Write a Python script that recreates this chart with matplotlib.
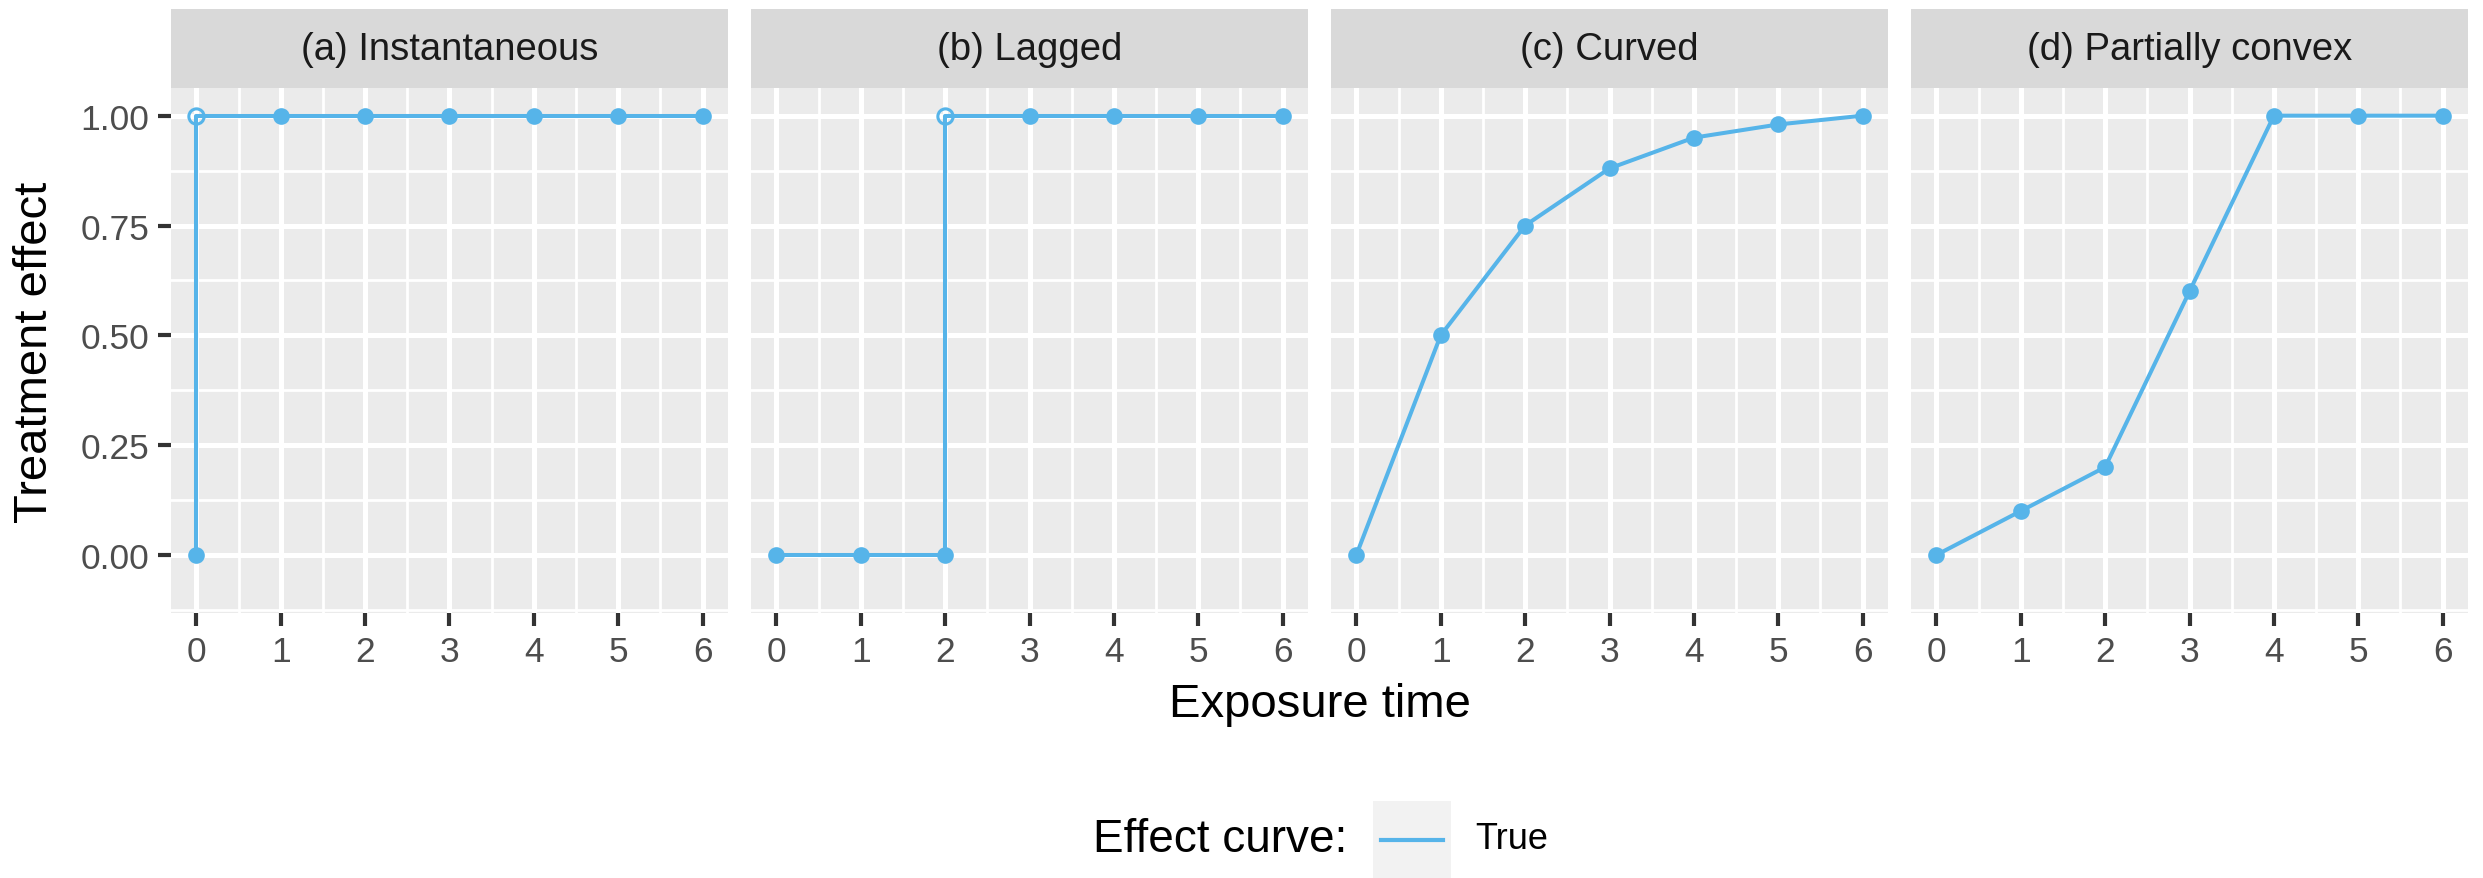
import matplotlib
matplotlib.use("Agg")
import matplotlib.pyplot as plt
import numpy as np
from matplotlib.lines import Line2D

# Data
times = [0, 1, 2, 3, 4, 5, 6]
eff_instant = [0, 1, 1, 1, 1, 1, 1]
eff_lagged = [0, 0, 0, 1, 1, 1, 1]
eff_curved = [0, 0.5, 0.75, 0.88, 0.95, 0.98, 1.0]
eff_convex = [0, 0.1, 0.2, 0.6, 1, 1, 1]
# step jumps (time, value) shown as an open circle, None for no jump
jump_instant = (0, 1)
jump_lagged = (2, 1)
panel_titles = ["(a) Instantaneous", "(b) Lagged", "(c) Curved", "(d) Partially convex"]
y_ticks = [0.0, 0.25, 0.5, 0.75, 1.0]
y_tick_labels = ["0.00", "0.25", "0.50", "0.75", "1.00"]

plt.rcParams["font.family"] = ["Liberation Sans", "DejaVu Sans"]

LINE_COLOR = "#56B4E9"
W, H = 2483, 879
fig = plt.figure(figsize=(W / 100, H / 100), dpi=100)

panels = [
    (eff_instant, jump_instant),
    (eff_lagged, jump_lagged),
    (eff_curved, None),
    (eff_convex, None),
]

# layout in pixels
left0, pw, gap = 171, 557, 23
strip_top, top, bottom = 10, 89, 614


def fx(px):
    return px / W


def fy(px):
    return 1 - px / H


for i, (vals, jump) in enumerate(panels):
    x0 = left0 + i * (pw + gap)
    ax = fig.add_axes([fx(x0), fy(bottom), fx(pw), (bottom - top) / H])
    ax.set_facecolor("#EBEBEB")
    for s in ax.spines.values():
        s.set_visible(False)
    ax.set_xlim(-0.3, 6.3)
    ax.set_ylim(-0.132, 1.063)
    ax.set_xticks(times)
    ax.set_xticks(np.arange(0.5, 6, 1.0), minor=True)
    ax.set_yticks(y_ticks)
    ax.set_yticks([-0.125, 0.125, 0.375, 0.625, 0.875], minor=True)
    ax.grid(which="major", color="white", lw=3.6)
    ax.grid(which="minor", color="white", lw=2.0)
    ax.set_axisbelow(True)
    ax.tick_params(which="major", length=9.5, width=3, color="#333333",
                   labelsize=25.5, labelcolor="#4D4D4D", pad=6)
    ax.tick_params(which="minor", length=0)
    if i == 0:
        ax.set_yticklabels(y_tick_labels)
    else:
        ax.tick_params(axis="y", which="major", length=0, labelleft=False)

    # line path including the vertical jump
    lx, ly = list(times), list(vals)
    if jump is not None:
        j = times.index(jump[0])
        lx = lx[: j + 1] + [jump[0]] + lx[j + 1:]
        ly = ly[: j + 1] + [jump[1]] + ly[j + 1:]
    ax.plot(lx, ly, color=LINE_COLOR, lw=2.9, solid_capstyle="butt", zorder=3)
    ax.plot(times, vals, "o", color=LINE_COLOR, ms=12, mew=0, zorder=4)
    if jump is not None:
        ax.plot([jump[0]], [jump[1]], "o", mfc="none", mec=LINE_COLOR,
                mew=2.2, ms=11, zorder=5)

    # facet strip
    sax = fig.add_axes([fx(x0), fy(top), fx(pw), (top - strip_top) / H])
    sax.set_facecolor("#D9D9D9")
    sax.set_xticks([])
    sax.set_yticks([])
    for s in sax.spines.values():
        s.set_visible(False)
    sax.text(0.5, 0.5, panel_titles[i], ha="center", va="center",
             fontsize=27.5, color="#1A1A1A", transform=sax.transAxes)

fig.text(fx(1320), fy(705), "Exposure time", ha="center", va="center", fontsize=34)
fig.text(fx(35), fy(352), "Treatment effect", ha="center", va="center",
         rotation=90, fontsize=34)

# legend
fig.text(fx(1347), fy(840), "Effect curve:", ha="right", va="center", fontsize=33)
kax = fig.add_axes([fx(1373), 0, fx(78), (H - 802) / H])
kax.set_facecolor("#F2F2F2")
kax.set_xticks([])
kax.set_yticks([])
for s in kax.spines.values():
    s.set_visible(False)
kax.set_xlim(0, 1)
kax.set_ylim(0, 1)
kax.add_line(Line2D([0.1, 0.9], [0.5, 0.5], color=LINE_COLOR, lw=3))
fig.text(fx(1475), fy(840), "True", ha="left", va="center", fontsize=26)

fig.savefig("out.png", dpi=100)
